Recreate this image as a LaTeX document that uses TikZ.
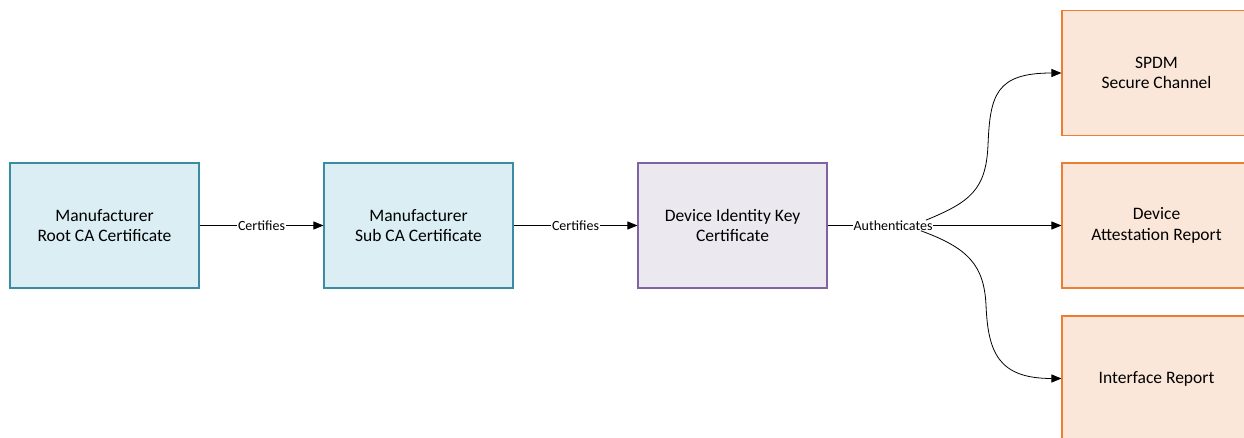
\documentclass[tikz,border=0pt]{standalone}
\usepackage{fontspec}
\setmainfont{Carlito}
\usetikzlibrary{arrows.meta}

\definecolor{caFill}{HTML}{DAEEF3}
\definecolor{caLine}{HTML}{3A8CA3}
\definecolor{devFill}{HTML}{ECE8F0}
\definecolor{devLine}{HTML}{8064A2}
\definecolor{useFill}{HTML}{FBE7D9}
\definecolor{useLine}{HTML}{ED7D31}

\tikzset{
  box/.style={draw, line width=1.1pt, minimum width=189pt, minimum height=125pt,
    inner sep=0pt, align=center, font=\fontsize{17.5}{20.5}\selectfont},
  cabox/.style={box, fill=caFill, draw=caLine},
  devbox/.style={box, fill=devFill, draw=devLine},
  usebox/.style={box, fill=useFill, draw=useLine},
  conn/.style={line width=0.8pt, -{Triangle[length=10pt,width=8pt]}},
  lbl/.style={fill=white, inner sep=1pt, font=\fontsize{14}{16}\selectfont}
}

\begin{document}
\begin{tikzpicture}[x=1pt, y=-1pt]
  \useasboundingbox (0,0) rectangle (1244,438);
  \clip (0,0) rectangle (1244,438);

  % certificate chain
  \node[cabox]  (root) at (104.5,225.5) {Manufacturer\\Root CA Certificate};
  \node[cabox]  (sub)  at (418.5,225.5) {Manufacturer\\Sub CA Certificate};
  \node[devbox] (dik)  at (732.5,225.5) {Device Identity Key\\Certificate};

  % what the device key authenticates
  \node[usebox] (spdm) at (1156.5,73)    {SPDM\\Secure Channel};
  \node[usebox] (dar)  at (1156.5,225.5) {Device\\Attestation Report};
  \node[usebox] (ifr)  at (1156.5,378.5) {Interface Report};

  % straight connectors with inline labels
  \draw[conn] (root.east) -- node[lbl] {Certifies} (sub.west);
  \draw[conn] (sub.east) -- node[lbl] {Certifies} (dik.west);
  \draw[conn] (dik.east) -- node[lbl, pos=0.28] (auth) {Authenticates} (dar.west);

  % curved branches from the label
  \coordinate (upStart) at ([xshift=-8pt,yshift=-1pt]auth.north east);
  \coordinate (dnStart) at ([xshift=-13pt,yshift=1pt]auth.south east);
  \draw[conn] (upStart) .. controls (970,202) and (986,190) .. (988,145)
     .. controls (990,95) and (996,73) .. (spdm.west);
  \draw[conn] (dnStart) .. controls (968,248) and (984,265) .. (986,305)
     .. controls (988,352) and (998,378.5) .. (ifr.west);
\end{tikzpicture}
\end{document}
